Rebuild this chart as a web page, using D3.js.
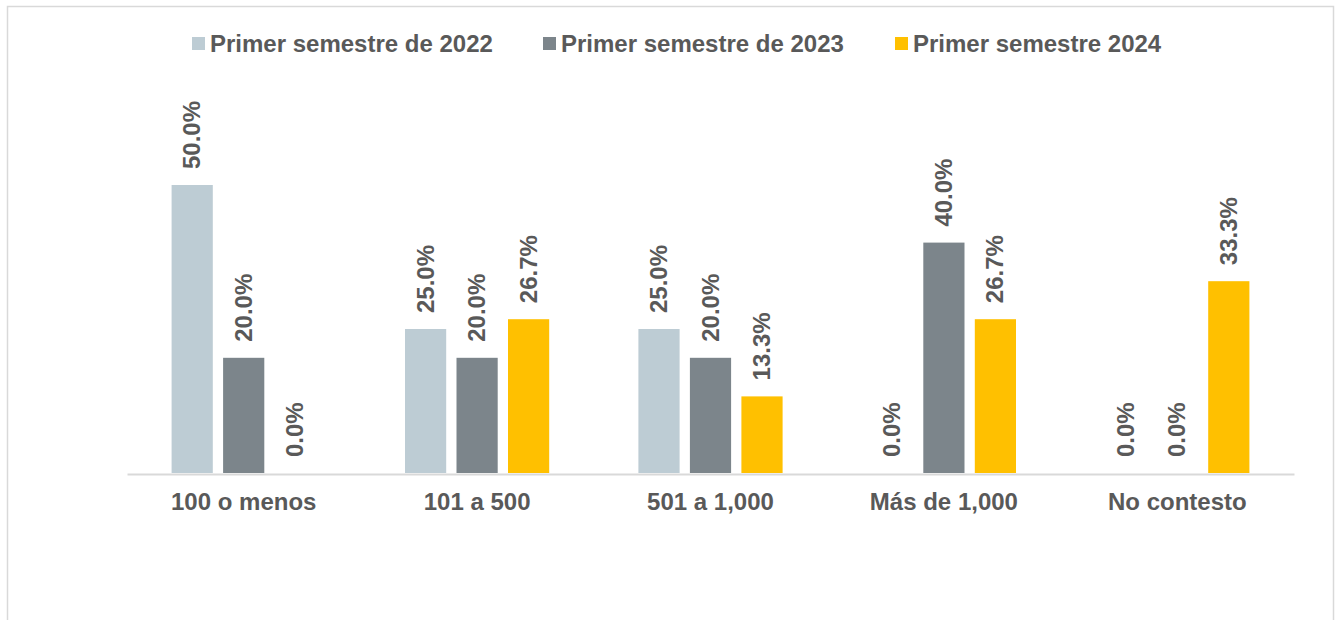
<!DOCTYPE html>
<html>
<head>
<meta charset="utf-8">
<script src="https://cdn.jsdelivr.net/npm/d3@7"></script>
<style>
  html, body { margin: 0; padding: 0; background: #fff; }
  svg { display: block; font-family: Arial, "Liberation Sans", sans-serif; }
</style>
</head>
<body>
<svg id="chart" width="1336" height="620"></svg>
<script>
// Categories (company size) and the three survey periods
const categories = ["100 o menos", "101 a 500", "501 a 1,000", "Más de 1,000", "No contesto"];
const seriesNames = ["Primer semestre de 2022", "Primer semestre de 2023", "Primer semestre 2024"];
const seriesColors = ["#BDCCD4", "#7C858B", "#FFC000"];

// Percentages per series, in category order
const values2022 = [50.0, 25.0, 25.0, 0.0, 0.0];
const values2023 = [20.0, 20.0, 20.0, 40.0, 0.0];
const values2024 = [0.0, 26.7, 13.3, 26.7, 33.3];
const seriesValues = [values2022, values2023, values2024];

const svg = d3.select("#chart");
const textColor = "#595959";
const fontSize = "24px";

// Outer frame
svg.append("rect")
  .attr("x", 7.5).attr("y", 6.5)
  .attr("width", 1326).attr("height", 640)
  .attr("fill", "none")
  .attr("stroke", "#d9d9d9")
  .attr("stroke-width", 1.5);

const plot = { left: 127, right: 1294, base: 473 };

const x0 = d3.scaleBand()
  .domain(categories)
  .range([plot.left, plot.right])
  .paddingInner(0).paddingOuter(0);

const x1 = d3.scaleBand()
  .domain(seriesNames)
  .range([0, x0.bandwidth()])
  .paddingInner(0.2)
  .paddingOuter(0.866);

// 50% sits 288px above the baseline
const y = d3.scaleLinear()
  .domain([0, 50])
  .range([plot.base, plot.base - 288]);

const rows = [];
categories.forEach((c, i) => {
  seriesNames.forEach((s, j) => {
    rows.push({ cat: c, series: s, idx: j, value: seriesValues[j][i] });
  });
});

// Bars
svg.append("g").selectAll("rect")
  .data(rows.filter(d => d.value > 0))
  .join("rect")
  .attr("x", d => x0(d.cat) + x1(d.series))
  .attr("y", d => y(d.value))
  .attr("width", x1.bandwidth())
  .attr("height", d => y(0) - y(d.value))
  .attr("fill", d => seriesColors[d.idx]);

// Category axis
const xAxis = svg.append("g")
  .attr("transform", `translate(0,${plot.base + 1})`)
  .call(d3.axisBottom(x0).tickSize(0).tickPadding(0));
xAxis.select(".domain").attr("stroke", "#d9d9d9").attr("stroke-width", 2);
xAxis.selectAll("text")
  .attr("dy", null)
  .attr("y", 36)
  .attr("fill", textColor)
  .attr("font-size", fontSize)
  .attr("font-weight", "bold")
  .attr("font-family", "Arial, 'Liberation Sans', sans-serif");

// Rotated value labels above each bar
svg.append("g").selectAll("text")
  .data(rows)
  .join("text")
  .attr("transform", d => {
    const cx = x0(d.cat) + x1(d.series) + x1.bandwidth() / 2;
    return `translate(${cx + 8},${y(d.value) - 16}) rotate(-90)`;
  })
  .attr("text-anchor", "start")
  .attr("fill", textColor)
  .attr("font-size", fontSize)
  .attr("font-weight", "bold")
  .text(d => d.value.toFixed(1) + "%");

// Legend
const legendX = [192, 543, 895];
const legend = svg.append("g").selectAll("g")
  .data(seriesNames)
  .join("g")
  .attr("transform", (d, i) => `translate(${legendX[i]},0)`);
legend.append("rect")
  .attr("x", 0).attr("y", 37)
  .attr("width", 13).attr("height", 13)
  .attr("fill", (d, i) => seriesColors[i]);
legend.append("text")
  .attr("x", 18).attr("y", 52)
  .attr("fill", textColor)
  .attr("font-size", fontSize)
  .attr("font-weight", "bold")
  .text(d => d);
</script>
</body>
</html>
